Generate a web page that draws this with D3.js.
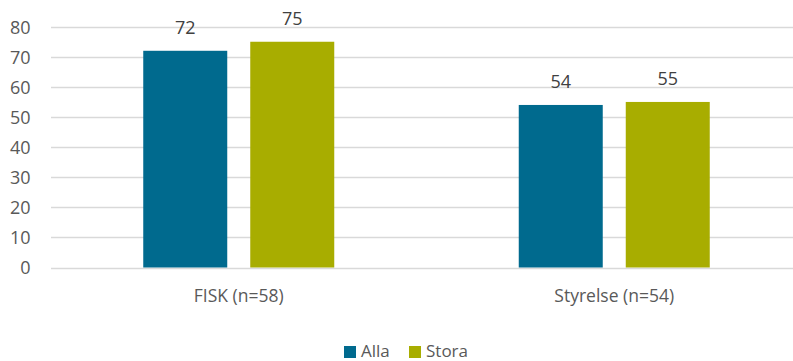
<!DOCTYPE html>
<html>
<head>
<meta charset="utf-8">
<script src="https://cdn.jsdelivr.net/npm/d3@7"></script>
<style>
  html, body { margin: 0; padding: 0; background: #fff; }
  svg { display: block; font-family: "Open Sans", Lato, sans-serif; }
</style>
</head>
<body>
<svg id="chart" width="793" height="361"></svg>
<script>
const categories = ["FISK (n=58)", "Styrelse (n=54)"];
const seriesNames = ["Alla", "Stora"];
const alla = [72, 54];
const stora = [75, 55];
const yTicks = [0, 10, 20, 30, 40, 50, 60, 70, 80];
const colors = ["#006a8e", "#a8ad00"];

const W = 793, H = 361;
const FONT = "'Open Sans', Lato, sans-serif";
const svg = d3.select("#chart");

const plot = { left: 51, right: 802, top: 26.7, bottom: 267.5 };

const y = d3.scaleLinear().domain([0, 80]).range([plot.bottom, plot.top]);
const x0 = d3.scaleBand().domain(categories).range([plot.left, plot.right]);
const groupW = 191;
const gOff = (x0.bandwidth() - groupW) / 2;
const x1 = d3.scaleBand().domain(seriesNames).range([gOff, gOff + groupW])
  .paddingInner(0.215).paddingOuter(0);

// gridlines
svg.append("g")
  .selectAll("line")
  .data(yTicks)
  .join("line")
  .attr("x1", plot.left).attr("x2", W)
  .attr("y1", d => Math.round(y(d)) + 0.5).attr("y2", d => Math.round(y(d)) + 0.5)
  .attr("stroke", "#d9d9d9").attr("stroke-width", 1.3);

// y axis labels
const yAxis = d3.axisLeft(y).tickValues(yTicks).tickSize(0).tickPadding(0);
const gy = svg.append("g").attr("transform", "translate(30.5,0)").call(yAxis);
gy.select(".domain").remove();
gy.selectAll("text")
  .attr("fill", "#595959").attr("font-size", 18).attr("font-family", FONT)
  .attr("dy", "0.36em");

// bars
const rows = categories.map((c, i) => ({ cat: c, vals: [alla[i], stora[i]] }));
const groups = svg.append("g").selectAll("g")
  .data(rows).join("g")
  .attr("transform", d => `translate(${x0(d.cat)},0)`);

groups.selectAll("rect")
  .data(d => d.vals.map((v, j) => ({ name: seriesNames[j], v, j })))
  .join("rect")
  .attr("x", d => x1(d.name))
  .attr("width", x1.bandwidth())
  .attr("y", d => y(d.v))
  .attr("height", d => y(0) - y(d.v))
  .attr("fill", d => colors[d.j]);

groups.selectAll("text.val")
  .data(d => d.vals.map((v, j) => ({ name: seriesNames[j], v, j })))
  .join("text")
  .attr("class", "val")
  .attr("x", d => x1(d.name) + x1.bandwidth() / 2)
  .attr("y", d => y(d.v) - 17)
  .attr("text-anchor", "middle")
  .attr("fill", "#404040").attr("font-size", 18).attr("font-family", FONT)
  .text(d => d.v);

// category labels
const xAxis = d3.axisBottom(x0).tickSize(0).tickPadding(0);
const gx = svg.append("g").attr("transform", `translate(0,${plot.bottom})`).call(xAxis);
gx.select(".domain").remove();
gx.selectAll("text")
  .attr("fill", "#595959").attr("font-size", 17.5).attr("font-family", FONT)
  .attr("dy", 0).attr("y", 34);

// legend
const legend = svg.append("g").attr("transform", "translate(344,346)");
const legendX = [0, 65];
seriesNames.forEach((n, i) => {
  const g = legend.append("g").attr("transform", `translate(${legendX[i]},0)`);
  g.append("rect").attr("width", 12).attr("height", 12).attr("fill", colors[i]);
  g.append("text").attr("x", 17).attr("y", 10.5)
    .attr("fill", "#595959").attr("font-size", 17).attr("font-family", FONT).text(n);
});
</script>
</body>
</html>
